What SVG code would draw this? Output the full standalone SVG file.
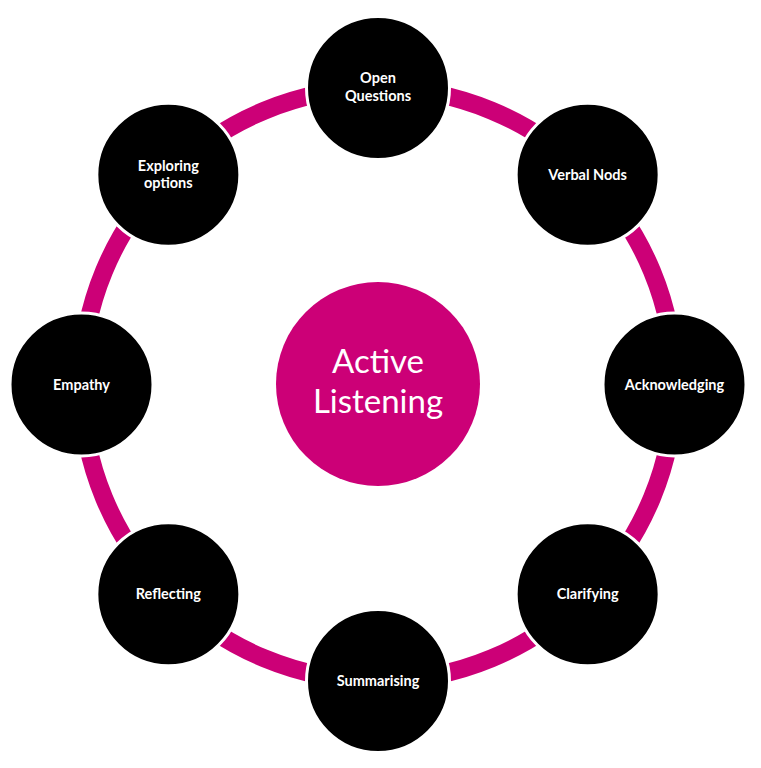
<svg xmlns="http://www.w3.org/2000/svg" width="761" height="768" viewBox="0 0 761 768">
<style>
.ring{fill:none;stroke:#cc0077;stroke-width:18}
.node circle{fill:#000;stroke:#fff;stroke-width:3}
.node text{fill:#fff;font-family:Lato,"Open Sans",sans-serif;font-weight:bold;font-size:14.5px;text-anchor:middle}
.hub circle{fill:#cc0077}
.hub text{fill:#fff;font-family:Lato,"Open Sans",sans-serif;font-size:33px;text-anchor:middle}
</style>
<rect width="761" height="768" fill="#fff"/>
<g id="connectors">
<path class="ring" d="M378 88 A296.5 296.5 0 0 1 587.66 174.84"/>
<path class="ring" d="M587.66 174.84 A296.5 296.5 0 0 1 674.5 384.5"/>
<path class="ring" d="M674.5 384.5 A296.5 296.5 0 0 1 587.66 594.16"/>
<path class="ring" d="M587.66 594.16 A296.5 296.5 0 0 1 378 681"/>
<path class="ring" d="M378 681 A296.5 296.5 0 0 1 168.34 594.16"/>
<path class="ring" d="M168.34 594.16 A296.5 296.5 0 0 1 81.5 384.5"/>
<path class="ring" d="M81.5 384.5 A296.5 296.5 0 0 1 168.34 174.84"/>
<path class="ring" d="M168.34 174.84 A296.5 296.5 0 0 1 378 88"/>
</g>
<g id="active-listening" class="hub">
<circle cx="378" cy="384" r="102"/>
<text x="378" y="373">Active</text>
<text x="378" y="413">Listening</text>
</g>
<g id="open-questions" class="node">
<circle cx="378" cy="88" r="71.5"/>
<text x="378" y="83">Open</text>
<text x="378" y="100.5">Questions</text>
</g>
<g id="verbal-nods" class="node">
<circle cx="587.66" cy="174.84" r="71.5"/>
<text x="587.66" y="179.5">Verbal Nods</text>
</g>
<g id="acknowledging" class="node">
<circle cx="674.5" cy="384.5" r="71.5"/>
<text x="674.5" y="389.5">Acknowledging</text>
</g>
<g id="clarifying" class="node">
<circle cx="587.66" cy="594.16" r="71.5"/>
<text x="587.66" y="599">Clarifying</text>
</g>
<g id="summarising" class="node">
<circle cx="378" cy="681" r="71.5"/>
<text x="378" y="686">Summarising</text>
</g>
<g id="reflecting" class="node">
<circle cx="168.34" cy="594.16" r="71.5"/>
<text x="168.34" y="599">Reflecting</text>
</g>
<g id="empathy" class="node">
<circle cx="81.5" cy="384.5" r="71.5"/>
<text x="81.5" y="389.5">Empathy</text>
</g>
<g id="exploring-options" class="node">
<circle cx="168.34" cy="174.84" r="71.5"/>
<text x="168.34" y="170.5">Exploring</text>
<text x="168.34" y="187.5">options</text>
</g>
</svg>
